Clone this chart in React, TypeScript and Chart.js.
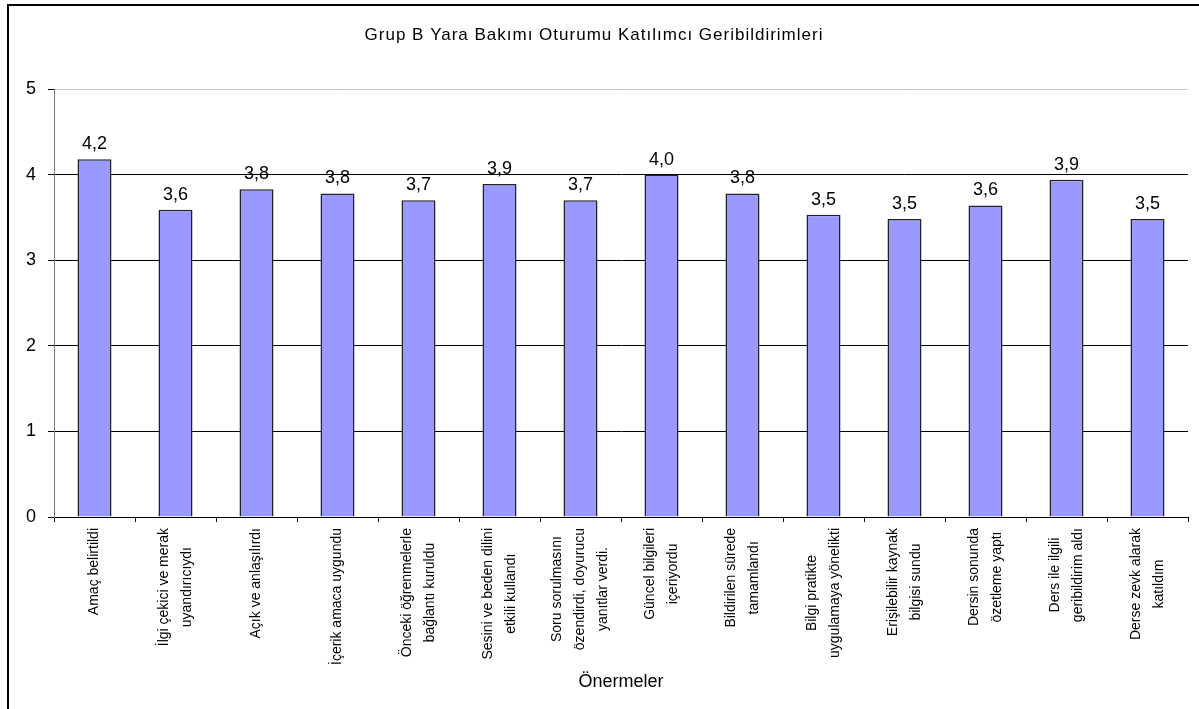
import React, { useEffect, useRef } from "react";
import { Chart, registerables } from "chart.js";

Chart.register(...registerables);

const chartTitle = "Grup B Yara Bakımı Oturumu Katılımcı Geribildirimleri";
const xAxisTitle = "Önermeler";

const categories: string[][] = [
  ["Amaç belirtildi"],
  ["İlgi çekici ve merak", "uyandırıcıydı"],
  ["Açık ve anlaşılırdı"],
  ["İçerik amaca uygundu"],
  ["Önceki öğrenmelerle", "bağlantı kuruldu"],
  ["Sesini ve beden dilini", "etkili kullandı"],
  ["Soru sorulmasını", "özendirdi, doyurucu", "yanıtlar verdi."],
  ["Güncel bilgileri", "içeriyordu"],
  ["Bildirilen sürede", "tamamlandı"],
  ["Bilgi pratikte", "uygulamaya yönelikti"],
  ["Erişilebilir kaynak", "bilgisi sundu"],
  ["Dersin sonunda", "özetleme yaptı"],
  ["Ders ile ilgili", "geribildirim aldı"],
  ["Derse zevk alarak", "katıldım"],
];

const scores: number[] = [4.18, 3.59, 3.83, 3.78, 3.7, 3.89, 3.7, 4.0, 3.78, 3.53, 3.48, 3.64, 3.94, 3.48];

const yTicks: number[] = [0, 1, 2, 3, 4, 5];

const FONT = "'Liberation Sans', Arial, sans-serif";

const decorPlugin = {
  id: "decor",
  beforeDraw(chart: any) {
    const ctx = chart.ctx;
    ctx.save();
    ctx.fillStyle = "#fff";
    ctx.fillRect(0, 0, chart.width, chart.height);
    ctx.fillStyle = "#000";
    ctx.fillRect(7, 4, chart.width - 7, 2);
    ctx.fillRect(7, 4, 2, chart.height - 4);
    ctx.font = `17px ${FONT}`;
    (ctx as any).letterSpacing = "1px";
    ctx.textAlign = "center";
    ctx.textBaseline = "middle";
    ctx.fillText(chartTitle, 594, 35);
    ctx.restore();
  },
  afterDatasetsDraw(chart: any) {
    const ctx = chart.ctx;
    const meta = chart.getDatasetMeta(0);
    ctx.save();
    ctx.fillStyle = "#000";
    ctx.font = `18px ${FONT}`;
    ctx.textAlign = "center";
    ctx.textBaseline = "alphabetic";
    meta.data.forEach((bar: any, i: number) => {
      const v = chart.data.datasets[0].data[i] as number;
      ctx.fillText(v.toFixed(1).replace(".", ","), bar.x, bar.y - 10);
    });
    // rotated category labels
    const xs = chart.scales.x;
    const top = xs.top + 11;
    const lineGap = 23;
    ctx.font = `14px ${FONT}`;
    ctx.textAlign = "center";
    ctx.textBaseline = "middle";
    categories.forEach((lines, i) => {
      const cx = xs.getPixelForTick(i);
      let maxW = 0;
      lines.forEach((l) => {
        maxW = Math.max(maxW, ctx.measureText(l).width);
      });
      const cy = top + maxW / 2;
      lines.forEach((l, j) => {
        const x = cx + (j - (lines.length - 1) / 2) * lineGap;
        ctx.save();
        ctx.translate(x, cy);
        ctx.rotate(-Math.PI / 2);
        ctx.fillText(l, 0, 0);
        ctx.restore();
      });
    });
    ctx.restore();
  },
};

export default function App() {
  const ref = useRef<HTMLCanvasElement | null>(null);
  useEffect(() => {
    document.body.style.overflow = "hidden";
    if (!ref.current) return;
    const chart = new Chart(ref.current, {
      type: "bar",
      data: {
        labels: categories.map((c) => c.join(" ")),
        datasets: [
          {
            data: scores,
            backgroundColor: "#9999FF",
            borderColor: "#222",
            borderWidth: 1.5,
            barPercentage: 0.42,
            categoryPercentage: 1,
          },
        ],
      },
      options: {
        animation: false,
        responsive: false,
        layout: { padding: { left: 0, right: 11, top: 89, bottom: 0 } },
        plugins: {
          legend: { display: false },
          tooltip: { enabled: false },
          title: { display: false },
        },
        scales: {
          x: {
            type: "category",
            afterFit: (s: any) => {
              s.height = 709 - 517;
            },
            grid: {
              display: true,
              drawOnChartArea: false,
              drawTicks: true,
              tickLength: 5,
              color: "#000",
              offset: true,
            },
            border: { display: true, color: "#000", width: 1 },
            ticks: { display: false },
            title: {
              display: true,
              text: xAxisTitle,
              color: "#000",
              font: { family: FONT, size: 18 },
              padding: { top: 0, bottom: 16 },
            },
          },
          y: {
            min: 0,
            max: 5,
            afterFit: (s: any) => {
              s.width = 54;
            },
            afterBuildTicks: (s: any) => {
              s.ticks = yTicks.map((v) => ({ value: v }));
            },
            grid: {
              color: (c: any) => (c.tick && c.tick.value === 5 ? "#c8c8c8" : "#000"),
              tickColor: "#000",
              tickLength: 6,
              lineWidth: 1,
            },
            border: { display: true, color: "#777", width: 1 },
            ticks: {
              color: "#000",
              font: { family: FONT, size: 18 },
              padding: 12,
              stepSize: 1,
            },
          },
        },
      },
      plugins: [decorPlugin],
    } as any);
    return () => chart.destroy();
  }, []);
  return (
    <div style={{ position: "absolute", left: 0, top: 0, width: 1199, height: 709 }}>
      <canvas ref={ref} width={1199} height={709} style={{ display: "block" }} />
    </div>
  );
}
